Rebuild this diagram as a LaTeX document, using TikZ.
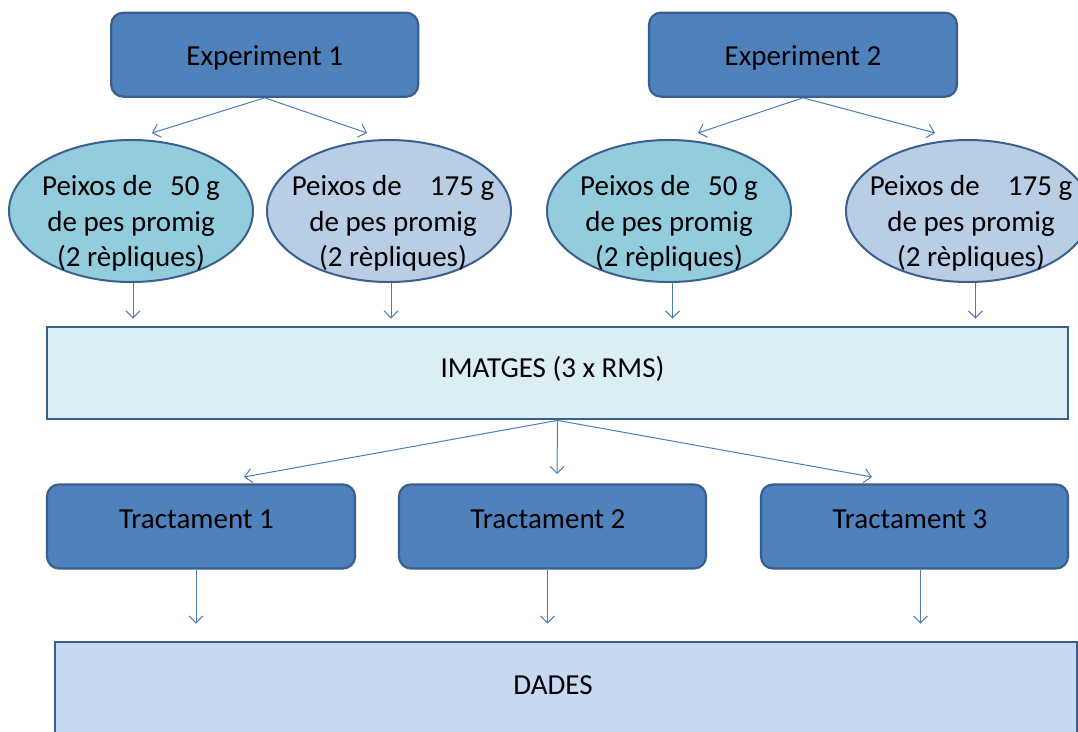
\documentclass[tikz,border=0pt]{standalone}
\usepackage{fontspec}
\setmainfont{Carlito}
\usetikzlibrary{arrows.meta,shapes.geometric,calc}
\definecolor{boxfill}{HTML}{4F81BD}
\definecolor{boxline}{HTML}{3A5F8E}
\definecolor{ellA}{HTML}{93CDDD}
\definecolor{ellB}{HTML}{B9CDE5}
\definecolor{imfill}{HTML}{DBEEF4}
\definecolor{dafill}{HTML}{C6D9F1}
\definecolor{arrcol}{HTML}{4A7EBB}
\tikzset{
  every node/.style={font=\fontsize{29}{35.5}\selectfont, text=black},
  dbox/.style={draw=boxline, line width=2.2pt, fill=boxfill, rounded corners=12pt,
    minimum height=84pt, inner sep=0pt},
  ell/.style={ellipse, draw=boxline, line width=2pt, minimum width=244pt,
    minimum height=142pt, inner sep=0pt},
  lbox/.style={draw=boxline, line width=2.8pt, inner sep=0pt},
  etext/.style={align=center, inner sep=0pt},
  arr/.style={draw=arrcol, line width=1pt, -{Straight Barb[length=7pt,width=14pt]}},
}
\begin{document}
\begin{tikzpicture}[x=1pt,y=-1pt]
\path[use as bounding box] (0,0) rectangle (1078,731);
\clip (0,0) rectangle (1078,731);

% Experiments
\node[dbox, minimum width=307pt, text height=28pt, text depth=6.6pt] (x1) at (264.7,54.7) {Experiment 1};
\node[dbox, minimum width=308pt, text height=28pt, text depth=6.6pt] (x2) at (803,54.7) {Experiment 2};

% Ellipses
\node[ell, fill=ellA] (e1) at (131,211) {};
\node[ell, fill=ellB] (e2) at (389,211) {};
\node[ell, fill=ellA] (e3) at (669,211) {};
\node[ell, fill=ellB] (e4) at (968,211) {};
\node[etext] (l1) at (131,223.5) {Peixos de\hspace{18pt}50 g\\de pes promig\\(2 rèpliques)};
\node[etext] (l2) at (393,223.5) {Peixos de\hspace{28pt}175 g\\de pes promig\\(2 rèpliques)};
\node[etext] (l3) at (669,223.5) {Peixos de\hspace{18pt}50 g\\de pes promig\\(2 rèpliques)};
\node[etext] (l4) at (971,223.5) {Peixos de\hspace{28pt}175 g\\de pes promig\\(2 rèpliques)};

% IMATGES
\node[lbox, fill=imfill, minimum width=1021pt, minimum height=92pt, text height=20pt, text depth=11.6pt] (im) at (557.5,373) {IMATGES (3 x RMS)\hspace*{10pt}};

% Tractaments
\node[dbox, minimum width=308pt, text height=20pt, text depth=17pt] (t1) at (201,526.5) {Tractament 1\hspace*{9pt}};
\node[dbox, minimum width=307pt, text height=20pt, text depth=17pt] (t2) at (552.5,526.5) {Tractament 2\hspace*{9pt}};
\node[dbox, minimum width=307pt, text height=20pt, text depth=17pt] (t3) at (914.5,526.5) {Tractament 3\hspace*{9pt}};

% DADES
\node[lbox, fill=dafill, minimum width=1022pt, minimum height=140pt] (dd) at (566,712) {};
\node[inner sep=0pt] (ddt) at (553,685) {DADES};

% arrows Experiment -> ellipses
\coordinate (a1) at (152,133);
\coordinate (a2) at (367,133);
\coordinate (a3) at (698,133);
\coordinate (a4) at (935,133);
\draw[arr] (x1.south) -- (a1);
\draw[arr] (x1.south) -- (a2);
\draw[arr] (x2.south) -- (a3);
\draw[arr] (x2.south) -- (a4);

% ellipses -> IMATGES
\coordinate (s1) at ($(e1.south)+(2,0)$);
\coordinate (s2) at ($(e2.south)+(2,0)$);
\coordinate (s3) at ($(e3.south)+(3.5,0)$);
\coordinate (s4) at ($(e4.south)+(7.5,0)$);
\foreach \s in {s1,s2,s3,s4}{
  \draw[arr, shorten >=7pt] (\s) -- (\s |- im.north);
}

% IMATGES -> Tractaments
\coordinate (m1) at (244,477);
\coordinate (m2) at (557,474);
\coordinate (m3) at (872,477);
\draw[arr] (im.south) -- (m1);
\draw[arr] (im.south) -- (m2);
\draw[arr] (im.south) -- (m3);

% Tractaments -> DADES
\coordinate (b1) at ($(t1.south)+(-5,0)$);
\coordinate (b2) at ($(t2.south)+(-5,0)$);
\coordinate (b3) at ($(t3.south)+(6,0)$);
\foreach \b in {b1,b2,b3}{
  \draw[arr, shorten >=17pt] (\b) -- (\b |- dd.north);
}
\end{tikzpicture}
\end{document}
